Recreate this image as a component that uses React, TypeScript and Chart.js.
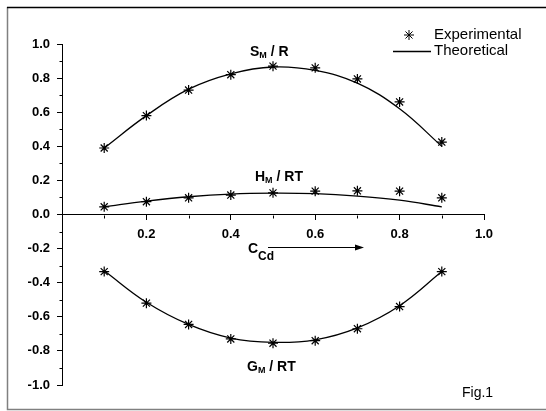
import React, { useEffect, useRef } from "react";
import { Chart, registerables } from "chart.js";

Chart.register(...registerables);

const xValues = [0.1, 0.2, 0.3, 0.4, 0.5, 0.6, 0.7, 0.8, 0.9];

const sExperimental = [0.39, 0.58, 0.73, 0.82, 0.87, 0.86, 0.795, 0.66, 0.425];
const sTheoretical = [0.39, 0.58, 0.735, 0.825, 0.865, 0.845, 0.77, 0.62, 0.4];

const hExperimental = [0.045, 0.075, 0.098, 0.114, 0.127, 0.137, 0.139, 0.137, 0.098];
const hTheoretical = [0.045, 0.078, 0.104, 0.12, 0.125, 0.122, 0.108, 0.084, 0.045];

const gExperimental = [-0.335, -0.52, -0.645, -0.73, -0.755, -0.74, -0.67, -0.54, -0.335];
const gTheoretical = [-0.33, -0.515, -0.645, -0.725, -0.75, -0.735, -0.665, -0.535, -0.335];

const xMajorTicks = [0.2, 0.4, 0.6, 0.8, 1.0];
const yMajorTicks = [-1.0, -0.8, -0.6, -0.4, -0.2, 0.0, 0.2, 0.4, 0.6, 0.8, 1.0];

const FONT = "'Liberation Sans', Arial, sans-serif";

const toPoints = (ys: number[]) => xValues.map((x, i) => ({ x, y: ys[i] }));

const isMajor = (v: number, list: number[]) => list.some((m) => Math.abs(m - v) < 1e-6);

function drawSubLabel(
  ctx: CanvasRenderingContext2D,
  x: number,
  y: number,
  main: string,
  sub: string,
  rest: string,
  mainSize: number,
  subSize: number,
  subDrop: number
) {
  ctx.textBaseline = "middle";
  ctx.textAlign = "left";
  ctx.font = `bold ${mainSize}px ${FONT}`;
  ctx.fillText(main, x, y);
  let cx = x + ctx.measureText(main).width;
  ctx.font = `bold ${subSize}px ${FONT}`;
  ctx.fillText(sub, cx, y + subDrop);
  cx += ctx.measureText(sub).width;
  if (rest) {
    ctx.font = `bold ${mainSize}px ${FONT}`;
    ctx.fillText(rest, cx, y);
  }
}

const decorPlugin = {
  id: "decor",
  beforeDraw(chart: any) {
    const ctx = chart.ctx as CanvasRenderingContext2D;
    ctx.save();
    ctx.fillStyle = "#ffffff";
    ctx.fillRect(0, 0, chart.width, chart.height);
    ctx.restore();
  },
  afterDraw(chart: any) {
    const ctx = chart.ctx as CanvasRenderingContext2D;
    const xs = chart.scales.x;
    const ys = chart.scales.y;
    ctx.save();
    // frame
    ctx.strokeStyle = "#808080";
    ctx.lineWidth = 1.5;
    ctx.beginPath();
    ctx.moveTo(7.5, 7);
    ctx.lineTo(7.5, 409.5);
    ctx.lineTo(546, 409.5);
    ctx.stroke();
    ctx.strokeStyle = "#000000";
    ctx.lineWidth = 1.5;
    ctx.beginPath();
    ctx.moveTo(7, 7.5);
    ctx.lineTo(546, 7.5);
    ctx.stroke();

    // minor ticks
    ctx.strokeStyle = "#000";
    ctx.lineWidth = 1;
    const left = Math.round(ys.right) + 0.5;
    for (let i = -9; i <= 9; i += 2) {
      const py = Math.round(ys.getPixelForValue(i / 10)) + 0.5;
      ctx.beginPath();
      ctx.moveTo(left - 3, py);
      ctx.lineTo(left, py);
      ctx.stroke();
    }
    const y0 = Math.round(ys.getPixelForValue(0)) + 0.5;
    for (let i = 1; i <= 9; i += 2) {
      const px = Math.round(xs.getPixelForValue(i / 10)) + 0.5;
      ctx.beginPath();
      ctx.moveTo(px, y0);
      ctx.lineTo(px, y0 + 3);
      ctx.stroke();
    }

    ctx.fillStyle = "#000";
    // curve labels
    drawSubLabel(ctx, 250, 52, "S", "M", " / R", 14, 9, 4);
    drawSubLabel(ctx, 255, 177, "H", "M", " / RT", 14, 9, 4);
    drawSubLabel(ctx, 247, 367, "G", "M", " / RT", 14, 9, 4);

    // x axis title with arrow
    drawSubLabel(ctx, 248, 249, "C", "Cd", "", 14, 12, 8);
    ctx.beginPath();
    ctx.moveTo(268, 247.5);
    ctx.lineTo(357, 247.5);
    ctx.stroke();
    ctx.beginPath();
    ctx.moveTo(364, 247.5);
    ctx.lineTo(355, 244.5);
    ctx.lineTo(355, 250.5);
    ctx.closePath();
    ctx.fill();

    // Fig.1
    ctx.font = `14px ${FONT}`;
    ctx.textBaseline = "middle";
    ctx.textAlign = "left";
    ctx.fillText("Fig.1", 462, 393);

    // legend
    const sx = 409;
    const sy = 35;
    const r = 5;
    ctx.beginPath();
    ctx.moveTo(sx - r, sy);
    ctx.lineTo(sx + r, sy);
    ctx.moveTo(sx, sy - r);
    ctx.lineTo(sx, sy + r);
    const d = r * 0.7071;
    ctx.moveTo(sx - d, sy - d);
    ctx.lineTo(sx + d, sy + d);
    ctx.moveTo(sx - d, sy + d);
    ctx.lineTo(sx + d, sy - d);
    ctx.stroke();
    ctx.font = `15px ${FONT}`;
    ctx.fillText("Experimental", 434, 35);
    ctx.lineWidth = 1.3;
    ctx.beginPath();
    ctx.moveTo(393, 51.5);
    ctx.lineTo(431, 51.5);
    ctx.stroke();
    ctx.fillText("Theoretical", 434, 51);
    ctx.restore();
  },
};

export default function App() {
  const canvasRef = useRef<HTMLCanvasElement | null>(null);

  useEffect(() => {
    if (!canvasRef.current) return;
    const expStyle = {
      type: "scatter" as const,
      showLine: false,
      pointStyle: "star" as const,
      pointRadius: 5,
      pointBorderWidth: 1.2,
      pointBorderColor: "#000",
      pointBackgroundColor: "#000",
      borderColor: "#000",
    };
    const theoStyle = {
      type: "line" as const,
      showLine: true,
      pointRadius: 0,
      borderColor: "#000",
      borderWidth: 1.3,
      tension: 0.4,
      fill: false,
    };
    const chart = new Chart(canvasRef.current, {
      type: "scatter",
      data: {
        datasets: [
          { label: "S exp", data: toPoints(sExperimental), ...expStyle },
          { label: "S theo", data: toPoints(sTheoretical), ...theoStyle },
          { label: "H exp", data: toPoints(hExperimental), ...expStyle },
          { label: "H theo", data: toPoints(hTheoretical), ...theoStyle },
          { label: "G exp", data: toPoints(gExperimental), ...expStyle },
          { label: "G theo", data: toPoints(gTheoretical), ...theoStyle },
        ] as any,
      },
      options: {
        responsive: false,
        animation: false,
        layout: { padding: { left: 0, right: 62, top: 44, bottom: 26 } },
        plugins: {
          legend: { display: false },
          tooltip: { enabled: false },
        },
        scales: {
          x: {
            type: "linear",
            min: 0,
            max: 1,
            position: { y: 0 } as any,
            ticks: {
              stepSize: 0.1,
              autoSkip: false,
              maxRotation: 0,
              padding: 7,
              color: "#000",
              font: { family: FONT, size: 13, weight: "bold" },
              callback: (v: any) => (isMajor(Number(v), xMajorTicks) ? Number(v).toFixed(1) : ""),
            },
            grid: {
              drawOnChartArea: false,
              tickLength: 5,
              tickColor: (c: any) => (isMajor(c.tick?.value, xMajorTicks) ? "#000" : "rgba(0,0,0,0)"),
            },
            border: { color: "#000", width: 1 },
          },
          y: {
            type: "linear",
            min: -1,
            max: 1,
            position: "left",
            afterFit: (s: any) => {
              s.width = 62;
            },
            ticks: {
              stepSize: 0.1,
              autoSkip: false,
              padding: 7,
              color: "#000",
              font: { family: FONT, size: 13, weight: "bold" },
              callback: (v: any) => (isMajor(Number(v), yMajorTicks) ? Number(v).toFixed(1) : ""),
            },
            grid: {
              drawOnChartArea: false,
              tickLength: 5,
              tickColor: (c: any) => (isMajor(c.tick?.value, yMajorTicks) ? "#000" : "rgba(0,0,0,0)"),
            },
            border: { color: "#000", width: 1 },
          },
        },
      },
      plugins: [decorPlugin],
    });
    return () => chart.destroy();
  }, []);

  return (
    <div style={{ position: "absolute", left: 0, top: 0, width: 546, height: 411 }}>
      <canvas ref={canvasRef} width={546} height={411} style={{ width: 546, height: 411 }} />
    </div>
  );
}
